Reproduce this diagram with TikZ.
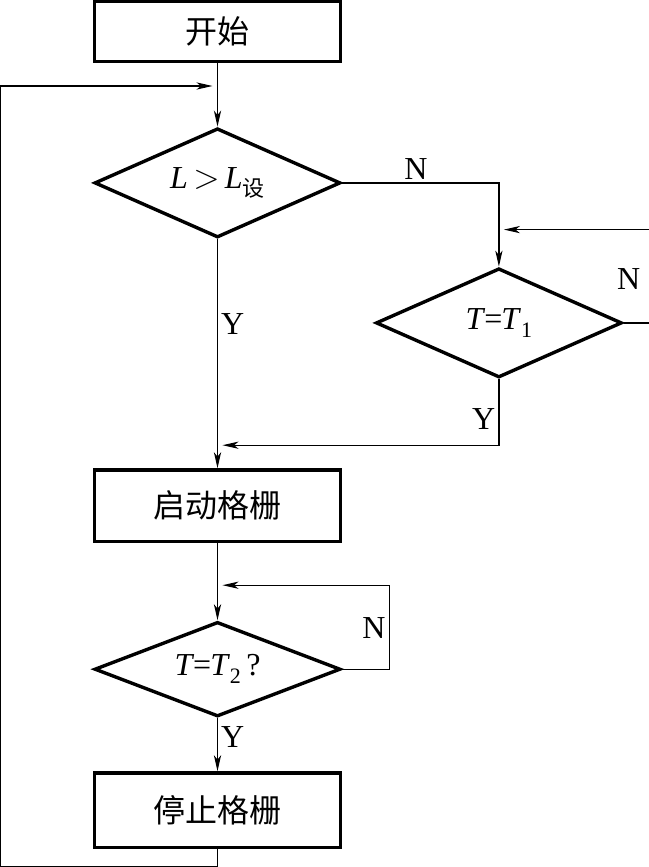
\documentclass[tikz,border=0pt]{standalone}
\usepackage{fontspec}
\setmainfont{Liberation Serif}
\newfontfamily\cjk{Noto Sans CJK SC}
\usepackage{tikz}
\usetikzlibrary{positioning,shapes.geometric,arrows.meta,calc}

\newcommand{\lowsub}[1]{\raisebox{-4pt}{\fontsize{11}{11}\selectfont #1}}

\begin{document}
\begin{tikzpicture}[
    every node/.style={font=\fontsize{16}{19}\selectfont},
    box/.style={draw, rectangle, line width=1.7pt, minimum width=123pt, minimum height=29.8pt},
    decision/.style={draw, diamond, line width=1.7pt, aspect=2.2, inner sep=0pt, minimum width=123pt, minimum height=54.6pt},
    line/.style={line width=0.65pt, -{Stealth[length=8pt,width=3.6pt,inset=2.2pt]}},
    plain/.style={line width=0.65pt},
    tojoin/.style={line, shorten >=2.5pt},
    lbl/.style={inner sep=1.5pt}
  ]
  \useasboundingbox (0,0) rectangle (324pt,-433.5pt);

  % Define nodes
  \node[box] (start) at (108.75pt,-15.75pt) {\cjk 开始};
  \node[decision, below=31.8pt of start] (d1) {\textit{L}\,$>$\,\textit{L}\lowsub{\cjk 设}};
  \node[decision, right=16pt of d1, yshift=-70pt] (d2) {\textit{T}\kern-0.5pt=\kern-0.5pt\textit{T}\lowsub{1}};
  \node[box, below=114.5pt of d1, minimum height=35.8pt] (run) {\cjk 启动格栅};
  \node[decision, below=38.5pt of run, minimum height=47.3pt] (d3) {\textit{T}\kern-0.5pt=\kern-0.5pt\textit{T}\lowsub{2}\,?};
  \node[box, below=26.5pt of d3, minimum height=37.3pt] (stop) {\cjk 停止格栅};

  % Join points
  \coordinate[below=11.5pt of start.south] (join1);
  \coordinate[above=18.5pt of d2.north] (join2);
  \coordinate[above=11.5pt of run.north] (join3);
  \coordinate[above=17.5pt of d3.north] (join4);
  \coordinate (railtop) at ($(start.west |- join1)+(-46pt,0)$);
  \coordinate (in2) at ($(d2.east |- join2)+(13pt,0)$);
  \coordinate (out2) at ($(d2.east)+(13pt,0)$);

  % Connect the nodes
  \draw[line] (start) -- (d1);
  \draw[line] (d1.east) -| node[lbl, above, pos=0.235] (n1) {N} (d2.north);
  \draw[tojoin] (in2) -- (join2);
  \draw[plain] (d2.east) -- (out2);
  \node[lbl] (n2) at ([shift={(2.5pt,22pt)}]d2.east) {N};
  \draw[tojoin] (d2.south) |- node[lbl, left, pos=0.3] (y2) {Y} (join3);
  \draw[line] (d1.south) -- node[lbl, right, pos=0.37] (y1) {Y} (run.north);
  \draw[line] (run) -- (d3);
  \draw[tojoin] (d3.east) -- ++(23.5pt,0) |- node[lbl, left, pos=0.245] (n3) {N} (join4);
  \draw[line] (d3) -- node[lbl, right, pos=0.35] (y3) {Y} (stop);
  \draw[tojoin] (stop.south) -- ++(0,-8.5pt) -| (railtop) -- (join1);

\end{tikzpicture}
\end{document}
